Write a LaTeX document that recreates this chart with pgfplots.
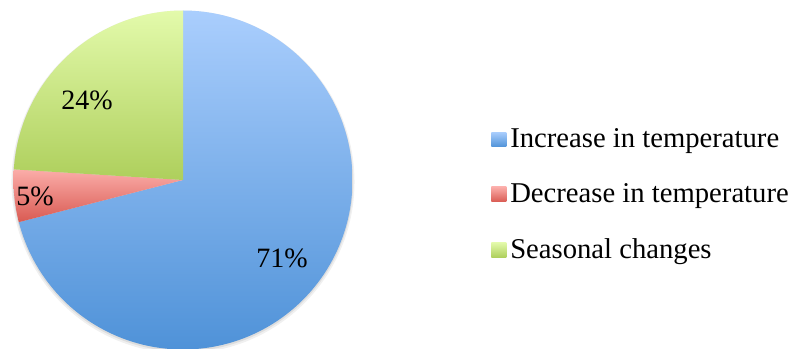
\documentclass[border=0pt]{standalone}
\usepackage{fontspec}
\setmainfont{Liberation Serif}
\usepackage{pgfplots}
\usepackage{pgfplotstable}
\pgfplotsset{compat=1.18}
\definecolor{blueTop}{HTML}{AACEFD}
\definecolor{blueBot}{HTML}{4F92D8}
\definecolor{redTop}{HTML}{FBADA9}
\definecolor{redBot}{HTML}{D95A52}
\definecolor{greenTop}{HTML}{E3FAAB}
\definecolor{greenBot}{HTML}{AECF5C}
\pgfplotstableread{
label value
Increase 71
Decrease 5
Seasonal 24
}\piedata
\newcommand\lblfont{\fontsize{21}{25}\selectfont}
\newcommand\legfont{\fontsize{21.5}{25}\selectfont}
\begin{document}%
\begin{tikzpicture}
\pgfplotstablegetelem{0}{value}\of\piedata \let\va\pgfplotsretval
\pgfplotstablegetelem{1}{value}\of\piedata \let\vb\pgfplotsretval
\pgfplotstablegetelem{2}{value}\of\piedata \let\vc\pgfplotsretval
\pgfmathsetmacro\aA{90-3.6*\va}
\pgfmathsetmacro\aB{\aA-3.6*\vb}
\pgfmathsetmacro\aC{\aB-3.6*\vc}
\useasboundingbox (0,0) rectangle (599.25pt,261.75pt);
\begin{axis}[
  at={(137.25pt,126.75pt)}, anchor=center,
  scale only axis, width=254.25pt, height=254.25pt,
  xmin=-1, xmax=1, ymin=-1, ymax=1,
  hide axis, clip=false,
  legend image code/.code={\path[#1,draw=none] (0pt,-5.6pt) rectangle (11.25pt,5.6pt);},
  legend style={at={(axis cs:1.817,-0.088)}, anchor=west, draw=none, fill=none,
    inner sep=0pt, font=\legfont, row sep=25.5pt,
    nodes={inner xsep=3pt, inner ysep=0pt}},
  legend cell align=left,
]
\addplot[forget plot, draw=none, fill=black, opacity=0.06, domain=0:360, samples=180, variable=\t]
  ({1.012*cos(\t)},{1.012*sin(\t)-0.012}) -- cycle;
\addplot[forget plot, draw=none, fill=black, opacity=0.08, domain=0:360, samples=180, variable=\t]
  ({1.004*cos(\t)},{1.004*sin(\t)-0.008}) -- cycle;
\addplot[draw=none, top color=blueTop, bottom color=blueBot, domain=\aA:90, samples=150, variable=\t]
  ({cos(\t)},{sin(\t)}) -- (axis cs:0,0) -- cycle;
\addlegendentry{Increase in temperature}
\addplot[draw=none, top color=redTop, bottom color=redBot, domain=\aB:\aA, samples=20, variable=\t]
  ({cos(\t)},{sin(\t)}) -- (axis cs:0,0) -- cycle;
\addlegendentry{Decrease in temperature}
\addplot[draw=none, top color=greenTop, bottom color=greenBot, domain=\aC:\aB, samples=80, variable=\t]
  ({cos(\t)},{sin(\t)}) -- (axis cs:0,0) -- cycle;
\addlegendentry{Seasonal changes}
\node[font=\lblfont] at (axis cs:0.584,-0.46) {71\%};
\node[font=\lblfont] at (axis cs:-0.566,0.472) {24\%};
\node[font=\lblfont] at (axis cs:-0.873,-0.094) {5\%};
\end{axis}
\end{tikzpicture}%
\end{document}
